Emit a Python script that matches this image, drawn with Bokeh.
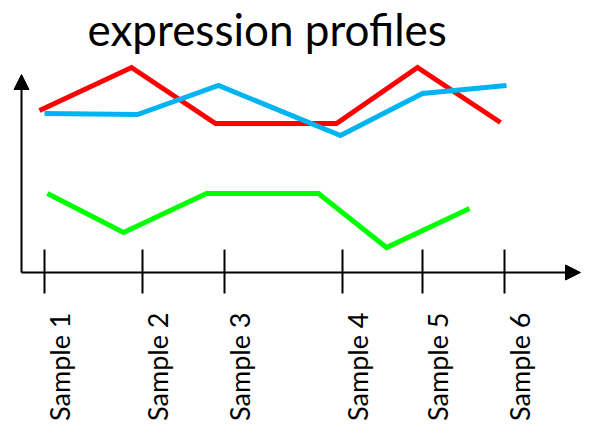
from math import pi
from bokeh.plotting import figure
from bokeh.models import Range1d, Arrow, NormalHead, Label
from bokeh.core.properties import value
from bokeh.embed import file_html
from bokeh.resources import INLINE

# ---- data ----
sample_labels = ["Sample 1", "Sample 2", "Sample 3", "Sample 4", "Sample 5", "Sample 6"]
sample_pos = [2.3, 12.1, 20.3, 32.1, 40.1, 48.3]

red_x = [1.8, 11.0, 19.4, 31.5, 39.6, 47.9]
red_y = [8.1, 10.25, 7.45, 7.45, 10.25, 7.5]

blue_x = [2.3, 11.6, 19.7, 31.9, 40.1, 48.5]
blue_y = [7.95, 7.9, 9.35, 6.85, 8.95, 9.35]

green_x = [2.6, 10.2, 18.5, 29.7, 36.5, 44.8]
green_y = [3.95, 2.0, 3.95, 3.95, 1.25, 3.2]

title_text = "expression profiles"

# ---- figure ----
W, H = 582, 430
p = figure(width=W, height=H, output_backend="svg", toolbar_location=None,
           x_range=Range1d(-2.1, -2.1 + W / 10), y_range=Range1d(13.6 - H / 20, 13.6),
           x_axis_location=None, y_axis_location=None, min_border=0)
p.grid.visible = False
p.outline_line_color = None
p.background_fill_color = "white"
p.border_fill_color = "white"

FONT = "Lato"

# axes with arrows
p.add_layout(Arrow(x_start=0, y_start=0, x_end=0, y_end=9.9, line_width=2, line_color="black",
                   end=NormalHead(size=15, fill_color="black", line_color="black", line_width=1)))
p.add_layout(Arrow(x_start=0, y_start=0, x_end=55.9, y_end=0, line_width=2, line_color="black",
                   end=NormalHead(size=15, fill_color="black", line_color="black", line_width=1)))

# tick marks crossing the x axis
p.segment(x0=sample_pos, y0=[1.15] * len(sample_pos), x1=sample_pos, y1=[-1.05] * len(sample_pos),
          line_color="black", line_width=2)

# tick labels (rotated)
p.text(x=sample_pos, y=[-2.0] * len(sample_pos), text=sample_labels, angle=pi / 2,
       text_align="right", text_baseline="alphabetic", x_offset=15,
       text_font=value(FONT), text_font_size=value("27px"), text_color="black")

# series
p.line(red_x, red_y, line_color="#FF0000", line_width=5, line_join="miter", line_cap="butt")
p.line(blue_x, blue_y, line_color="#00B4F2", line_width=5, line_join="miter", line_cap="butt")
p.line(green_x, green_y, line_color="#00FF00", line_width=5, line_join="miter", line_cap="butt")

# title
p.add_layout(Label(x=6.6, y=12.2, text=title_text, text_font=FONT, text_font_size="44px",
                   text_baseline="alphabetic", text_color="black"))

open("out.html", "w").write(file_html(p, INLINE))
